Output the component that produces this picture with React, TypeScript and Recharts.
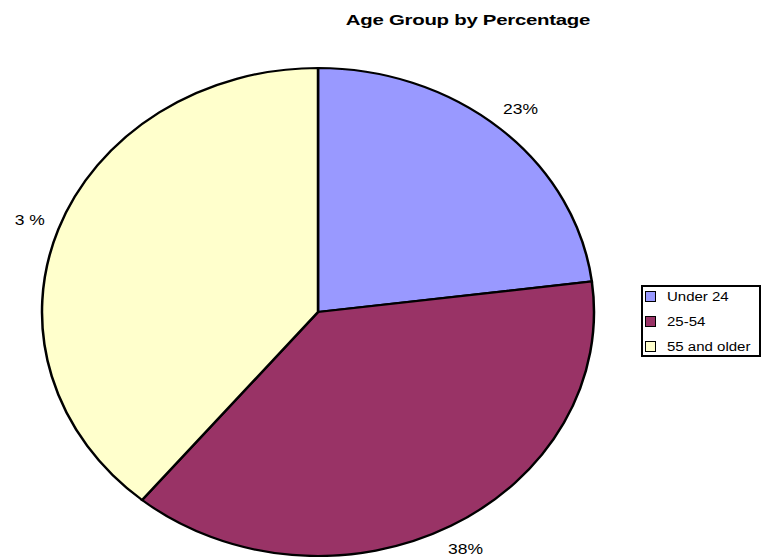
import { PieChart, Pie, Cell, Sector } from 'recharts';

const groups = ['Under 24', '25-54', '55 and older'];
const shares = [23, 38, 39];
const labelTexts = ['23%', '38%', '3 %'];
const colors = ['#9999FF', '#993366', '#FFFFCC'];

const data = groups.map((name, i) => ({ name, value: shares[i] }));

const W = 763;
const H = 557;
const RX = 276;
const RY = 244;
const K = RY / RX; // the original pie is a flattened ellipse
const RAD = Math.PI / 180;
const FONT = 'Liberation Sans, Arial, sans-serif';
const STRETCH = 1.25; // text in the source is stretched sideways

function EllipseSector(props: any) {
  const { cy } = props;
  return (
    <g transform={`translate(0 ${cy}) scale(1 ${K}) translate(0 ${-cy})`}>
      <Sector {...props} />
    </g>
  );
}

function renderLabel(props: any) {
  const { cx, cy, midAngle, outerRadius, index } = props;
  const r = outerRadius * 1.11;
  const x = cx + r * Math.cos(-midAngle * RAD);
  const y = cy + r * K * Math.sin(-midAngle * RAD);
  return (
    <text
      transform={`translate(${x} ${y}) scale(${STRETCH} 1)`}
      x={0}
      y={0}
      textAnchor="middle"
      dominantBaseline="central"
      fontFamily={FONT}
      fontSize={14}
      fill="#000"
    >
      {labelTexts[index]}
    </text>
  );
}

function LegendBox() {
  return (
    <div
      style={{
        position: 'absolute',
        left: 641,
        top: 285,
        width: 116,
        height: 68,
        border: '2px solid #000',
        background: '#fff',
        fontFamily: FONT,
        fontSize: 12,
        zIndex: 2,
      }}
    >
      {groups.map((g, i) => (
        <div key={g} style={{ display: 'flex', alignItems: 'center', height: 25, paddingLeft: 2, marginTop: i === 0 ? -3 : 0 }}>
          <span
            style={{
              display: 'inline-block',
              width: 9,
              height: 9,
              background: colors[i],
              border: '1px solid #000',
              marginRight: 11,
              flexShrink: 0,
            }}
          />
          <span style={{ display: 'inline-block', whiteSpace: 'nowrap', transform: `scaleX(${STRETCH})`, transformOrigin: 'left center' }}>
            {g}
          </span>
        </div>
      ))}
    </div>
  );
}

export default function App() {
  return (
    <div style={{ position: 'absolute', left: 0, top: 0, width: W, height: H, background: '#fff', overflow: 'hidden' }}>
      <div
        style={{
          position: 'absolute',
          left: 468,
          top: 11,
          whiteSpace: 'nowrap',
          transform: 'translateX(-50%) scaleX(1.36)',
          fontFamily: FONT,
          fontWeight: 'bold',
          fontSize: 15,
          letterSpacing: -0.2,
          zIndex: 2,
        }}
      >
        Age Group by Percentage
      </div>
      <PieChart width={W} height={H} margin={{ top: 0, right: 0, bottom: 0, left: 0 }}>
        <Pie
          data={data}
          dataKey="value"
          nameKey="name"
          cx={318}
          cy={312}
          outerRadius={RX}
          startAngle={90}
          endAngle={-270}
          stroke="#000"
          strokeWidth={2.5}
          shape={EllipseSector}
          label={renderLabel}
          labelLine={false}
          isAnimationActive={false}
        >
          {data.map((d, i) => (
            <Cell key={d.name} fill={colors[i]} />
          ))}
        </Pie>
      </PieChart>
      <LegendBox />
    </div>
  );
}
